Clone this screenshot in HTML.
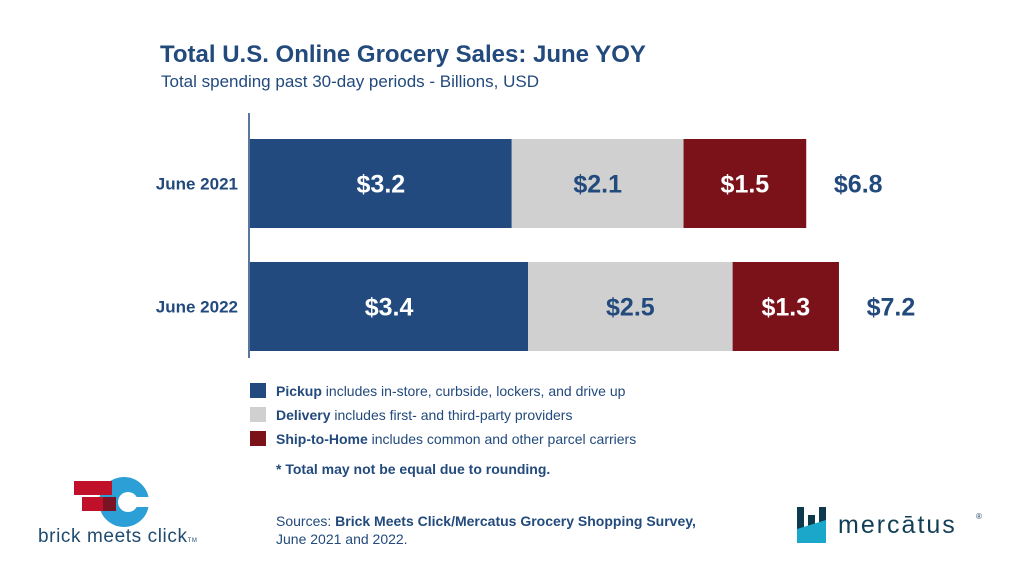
<!DOCTYPE html>
<html><head><meta charset="utf-8"><style>
html,body{margin:0;padding:0;background:#fff}
svg{display:block;font-family:"Liberation Sans",Arial,sans-serif}
</style></head><body>
<svg id="chart" width="1024" height="576" viewBox="0 0 1024 576">
<text x="160" y="62" font-size="24" font-weight="bold" fill="#224a7c">Total U.S. Online Grocery Sales: June YOY</text>
<text x="161" y="87" font-size="17" fill="#224a7c">Total spending past 30-day periods - Billions, USD</text>
<line x1="249" y1="113" x2="249" y2="358" stroke="#224a7c" stroke-width="1.5"/>
<g id="bars"></g>
<g>
<rect x="250" y="383" width="16" height="15" fill="#234a7e"/>
<text x="276" y="396" font-size="14" fill="#224a7c"><tspan font-weight="bold">Pickup</tspan> includes in-store, curbside, lockers, and drive up</text>
<rect x="250" y="407" width="16" height="15" fill="#d0d0d0"/>
<text x="276" y="420" font-size="14" fill="#224a7c"><tspan font-weight="bold">Delivery</tspan> includes first- and third-party providers</text>
<rect x="250" y="431" width="16" height="15" fill="#7b121a"/>
<text x="276" y="444" font-size="14" fill="#224a7c"><tspan font-weight="bold">Ship-to-Home</tspan> includes common and other parcel carriers</text>
<text x="276" y="474" font-size="14" font-weight="bold" fill="#224a7c">* Total may not be equal due to rounding.</text>
</g>
<g>
<text x="276" y="526" font-size="14" fill="#224a7c">Sources: <tspan font-weight="bold">Brick Meets Click/Mercatus Grocery Shopping Survey,</tspan></text>
<text x="276" y="544" font-size="14" fill="#224a7c">June 2021 and 2022.</text>
</g>
<g>
<circle cx="124" cy="502" r="25" fill="#2b9fd6"/>
<circle cx="128" cy="502" r="10" fill="#fff"/>
<rect x="128" y="497" width="30" height="10" fill="#fff"/>
<rect x="74" y="481" width="38" height="14" fill="#c0102a"/>
<rect x="82" y="497" width="34" height="14" fill="#c0102a"/>
<rect x="103" y="497" width="13" height="14" fill="#7a1424"/>
<text x="38" y="542" font-size="19" fill="#1f4a6e" letter-spacing="0.6">brick meets click<tspan font-size="6">TM</tspan></text>
</g>
<g>
<rect x="797" y="507" width="7" height="30" fill="#0f3a4e"/>
<rect x="808" y="515" width="7" height="22" fill="#0f3a4e"/>
<rect x="819" y="507" width="7" height="30" fill="#0f3a4e"/>
<polygon points="797,529 826,520 826,543 797,543" fill="#1ba7c9"/>
<text x="838" y="533" font-size="25" fill="#123f55" letter-spacing="2">mercātus</text>
<text x="976" y="519" font-size="8" fill="#123f55">®</text>
</g>
</svg>
<script>
const categories = ["June 2021", "June 2022"];
const pickup = [3.2, 3.4];
const delivery = [2.1, 2.5];
const shipToHome = [1.5, 1.3];
const totals = ["$6.8", "$7.2"];
const seriesNames = ["pickup", "delivery", "ship-to-home"];

const NS = "http://www.w3.org/2000/svg";
const x0 = 250, pxPerUnit = 81.8;
const xScale = v => x0 + v * pxPerUnit;
const rowTop = [139, 262], barH = 89;
const colors = ["#234a7e", "#d0d0d0", "#7b121a"];
const labelColors = ["#fff", "#224a7c", "#fff"];
const g = document.getElementById("bars");
function mk(tag, attrs){const e=document.createElementNS(NS,tag);for(const k in attrs)e.setAttribute(k,attrs[k]);return e;}
categories.forEach((cat, i) => {
  const vals = [pickup[i], delivery[i], shipToHome[i]];
  const y = rowTop[i];
  const lab = mk("text", {x: 238, y: y + barH/2 + 6, "text-anchor": "end", "font-size": 17, "font-weight": "bold", fill: "#224a7c"});
  lab.textContent = cat;
  
  
  g.appendChild(lab);
  let cum = 0;
  vals.forEach((v, j) => {
    const xa = xScale(cum), xb = xScale(cum + v);
    const r = mk("rect", {x: xa, y: y, width: xb - xa, height: barH, fill: colors[j]});
    
    
    g.appendChild(r);
    const t = mk("text", {x: (xa + xb)/2, y: y + barH/2 + 9, "text-anchor": "middle", "font-size": 25, "font-weight": "bold", fill: labelColors[j]});
    t.textContent = "$" + v.toFixed(1);
    
    
    g.appendChild(t);
    cum += v;
  });
  const tt = mk("text", {x: xScale(cum) + 52, y: y + barH/2 + 9, "text-anchor": "middle", "font-size": 25, "font-weight": "bold", fill: "#224a7c"});
  tt.textContent = totals[i];
  
  
  g.appendChild(tt);
});
</script>
</body></html>
